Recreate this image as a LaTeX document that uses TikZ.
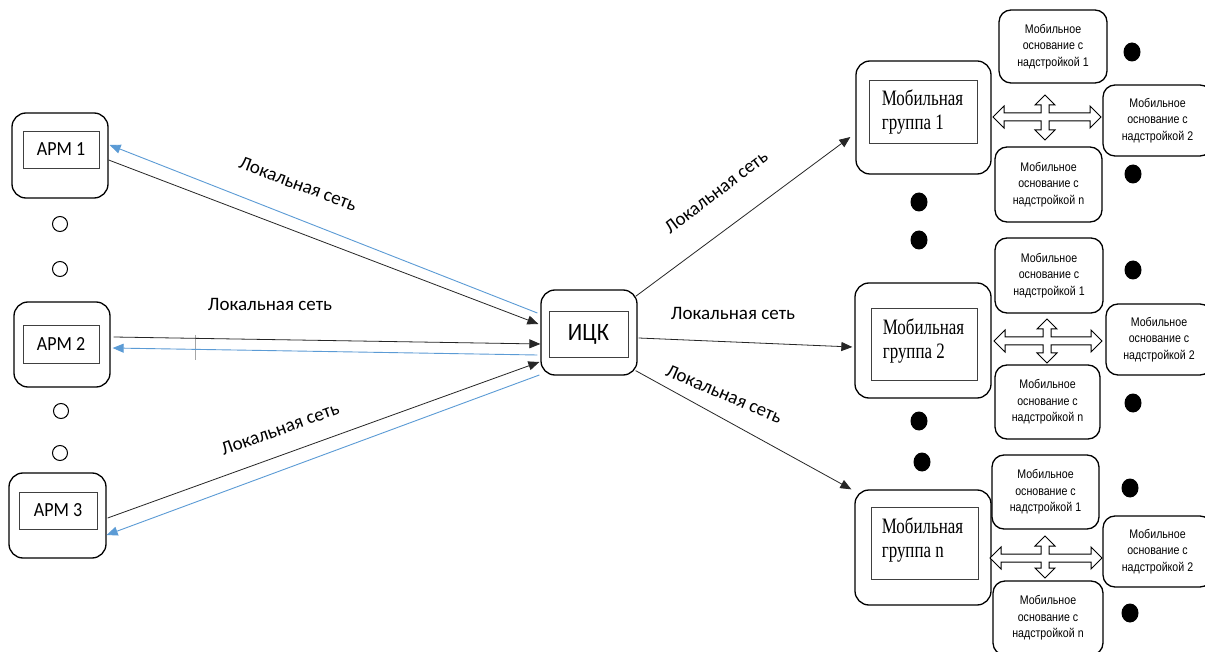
\documentclass[tikz,border=0pt]{standalone}
\usepackage{fontspec}
\setmainfont{Liberation Serif}
\newfontfamily\calfont[FakeStretch=0.9]{Carlito}
\newfontfamily\lblfont{Carlito}
\newfontfamily\serfont[FakeStretch=0.77]{Liberation Serif}
\newfontfamily\narfont[FakeStretch=0.85]{Liberation Sans}
\usetikzlibrary{arrows.meta,calc}
\definecolor{lineblue}{RGB}{91,155,213}
\newcommand\crossarr[6]{%
\draw[line width=1pt, fill=white, line join=miter] (#3,#2) -- ({#3+11},{#2-11}) -- ({#3+11},{#2-4}) -- ({#1-4},{#2-4}) -- ({#1-4},{#5+10}) -- ({#1-10},{#5+10}) -- (#1,#5) -- ({#1+10},{#5+10}) -- ({#1+4},{#5+10}) -- ({#1+4},{#2-4}) -- ({#4-11},{#2-4}) -- ({#4-11},{#2-11}) -- (#4,#2) -- ({#4-11},{#2+11}) -- ({#4-11},{#2+4}) -- ({#1+4},{#2+4}) -- ({#1+4},{#6-10}) -- ({#1+10},{#6-10}) -- (#1,#6) -- ({#1-10},{#6-10}) -- ({#1-4},{#6-10}) -- ({#1-4},{#2+4}) -- ({#3+11},{#2+4}) -- ({#3+11},{#2+11}) -- cycle;}
\begin{document}
\begin{tikzpicture}[x=1pt,y=-1pt,
 outerbox/.style={draw, line width=1.3pt, rounded corners=14pt, inner sep=0pt},
 innerbox/.style={draw=black!75, line width=0.8pt, inner sep=0pt},
 apmtext/.style={font=\calfont\fontsize{20}{24}\selectfont},
 mgtext/.style={font=\serfont\fontsize{22}{24}\selectfont, align=left, inner sep=0pt, anchor=west},
 mobbox/.style={draw, line width=1.3pt, rounded corners=12pt, align=center, inner sep=0pt, font=\narfont\fontsize{12.5}{16.5}\selectfont},
 blk/.style={draw=black!85, line width=0.8pt, -{Triangle[length=11pt,width=9pt]}},
 blu/.style={draw=lineblue, line width=0.9pt, -{Triangle[length=11pt,width=9pt]}},
 lbl/.style={font=\lblfont\fontsize{19}{22}\selectfont, inner sep=0pt}]
\clip (0,0) rectangle (1205,652);
\fill[white] (0,0) rectangle (1205,652);

% left workstations
\node[outerbox, minimum width=96pt, minimum height=85pt] (apm1) at (60,155.5) {};
\node[innerbox, apmtext, minimum width=76pt, minimum height=37pt] (apm1t) at (61,149.5) {АРМ 1};
\node[outerbox, minimum width=96pt, minimum height=85pt] (apm2) at (62,344.5) {};
\node[innerbox, apmtext, minimum width=76pt, minimum height=38pt] (apm2t) at (61,344) {АРМ 2};
\node[outerbox, minimum width=97pt, minimum height=85pt] (apm3) at (57.5,515.5) {};
\node[innerbox, apmtext, minimum width=78pt, minimum height=37pt] (apm3t) at (58,510.5) {АРМ 3};

\draw[line width=1pt] (60,224) circle[radius=7.5];
\draw[line width=1pt] (60,269) circle[radius=7.5];
\draw[line width=1pt] (61,411) circle[radius=7.5];
\draw[line width=1pt] (60,453) circle[radius=7.5];

% centre
\node[outerbox, minimum width=96pt, minimum height=85pt] (icc) at (589,332.5) {};
\node[innerbox, font=\calfont\fontsize{25}{28}\selectfont, minimum width=79pt, minimum height=46pt] (icct) at (588.5,334) {ИЦК};

% mobile groups
\node[outerbox, minimum width=135pt, minimum height=113pt] (mg1) at (923.5,117.5) {};
\node[innerbox, minimum width=108pt, minimum height=63pt] (mg1i) at (923,111.5) {};
\node[mgtext] (mg1t) at ($(mg1i.west)+(13,1)$) {Мобильная\\группа 1};
\node[outerbox, minimum width=136pt, minimum height=115pt] (mg2) at (923,340.5) {};
\node[innerbox, minimum width=106pt, minimum height=72pt] (mg2i) at (924,344) {};
\node[mgtext] (mg2t) at ($(mg2i.west)+(12,-3)$) {Мобильная\\группа 2};
\node[outerbox, minimum width=136pt, minimum height=115pt] (mgn) at (923,547.5) {};
\node[innerbox, minimum width=107pt, minimum height=72pt] (mgni) at (924.5,543) {};
\node[mgtext] (mgnt) at ($(mgni.west)+(11,-3)$) {Мобильная\\группа n};

% mobile bases
\node[mobbox, minimum width=108pt, minimum height=73pt] (g1a) at (1053,46.5) {Мобильное\\основание с\\надстройкой 1};
\node[mobbox, minimum width=109pt, minimum height=71pt] (g1b) at (1157.5,120.5) {Мобильное\\основание с\\надстройкой 2};
\node[mobbox, minimum width=107pt, minimum height=75pt] (g1c) at (1048.5,184.5) {Мобильное\\основание с\\надстройкой n};
\node[mobbox, minimum width=108pt, minimum height=75pt] (g2a) at (1049,275.5) {Мобильное\\основание с\\надстройкой 1};
\node[mobbox, minimum width=106pt, minimum height=71pt] (g2b) at (1159,339.5) {Мобильное\\основание с\\надстройкой 2};
\node[mobbox, minimum width=105pt, minimum height=74pt] (g2c) at (1047.5,402) {Мобильное\\основание с\\надстройкой n};
\node[mobbox, minimum width=107pt, minimum height=74pt] (gna) at (1045.5,492) {Мобильное\\основание с\\надстройкой 1};
\node[mobbox, minimum width=109pt, minimum height=71pt] (gnb) at (1157.5,551.5) {Мобильное\\основание с\\надстройкой 2};
\node[mobbox, minimum width=110pt, minimum height=74pt] (gnc) at (1048,618) {Мобильное\\основание с\\надстройкой n};

% cross arrows
\crossarr{1045}{117}{993}{1101}{95}{140}
\crossarr{1047}{341}{994}{1102}{319}{363}
\crossarr{1045}{558}{990}{1102}{536}{578}

% filled dots
\foreach \p in {(1132,52),(1133,174),(919,202),(919,240),(1133,270),(1133,403),(919,421),(922,462),(1130,488),(1130,613)}
  \fill \p ellipse[x radius=8.5, y radius=9.5];

% stray tick
\draw[black!35, line width=0.6pt] (195,335) -- (195,360);

% connectors left
\draw[blk] ($(apm1.east)+(0,4.5)$) -- ($(icc.west)+(-2,-8.5)$);
\draw[blu] ($(icc.west)+(-3,-19.5)$) -- ($(apm1.east)+(1,-10.5)$);
\draw[blk] ($(apm2.east)+(3,-7.5)$) -- ($(icc.west)+(0,11.5)$);
\draw[blu] ($(icc.west)+(-3,22.5)$) -- ($(apm2.east)+(2,3.5)$);
\draw[blk] ($(apm3.east)+(1,2.5)$) -- ($(icc.west)+(-1,29.5)$);
\draw[blu] ($(icc.west)+(-1,42.5)$) -- ($(apm3.east)+(0,19.5)$);

% connectors right
\draw[blk] ($(icc.north east)+(-2,7)$) -- ($(mg1.west)+(-5,19.5)$);
\draw[blk] ($(icc.east)+(1,5.5)$) -- ($(mg2.west)+(-2,6.5)$);
\draw[blk] ($(icc.south east)+(-2,-5)$) -- ($(mgn.north west)+(-3,0)$);

% labels
\node[lbl, rotate=-20.5] (l1) at (298,184) {Локальная сеть};
\node[lbl] (l2) at (270,304) {Локальная сеть};
\node[lbl, rotate=20] (l3) at (280,429) {Локальная сеть};
\node[lbl, rotate=37] (l4) at (716,192) {Локальная сеть};
\node[lbl] (l5) at (733,313) {Локальная сеть};
\node[lbl, rotate=-23] (l6) at (724,394) {Локальная сеть};
\end{tikzpicture}
\end{document}
